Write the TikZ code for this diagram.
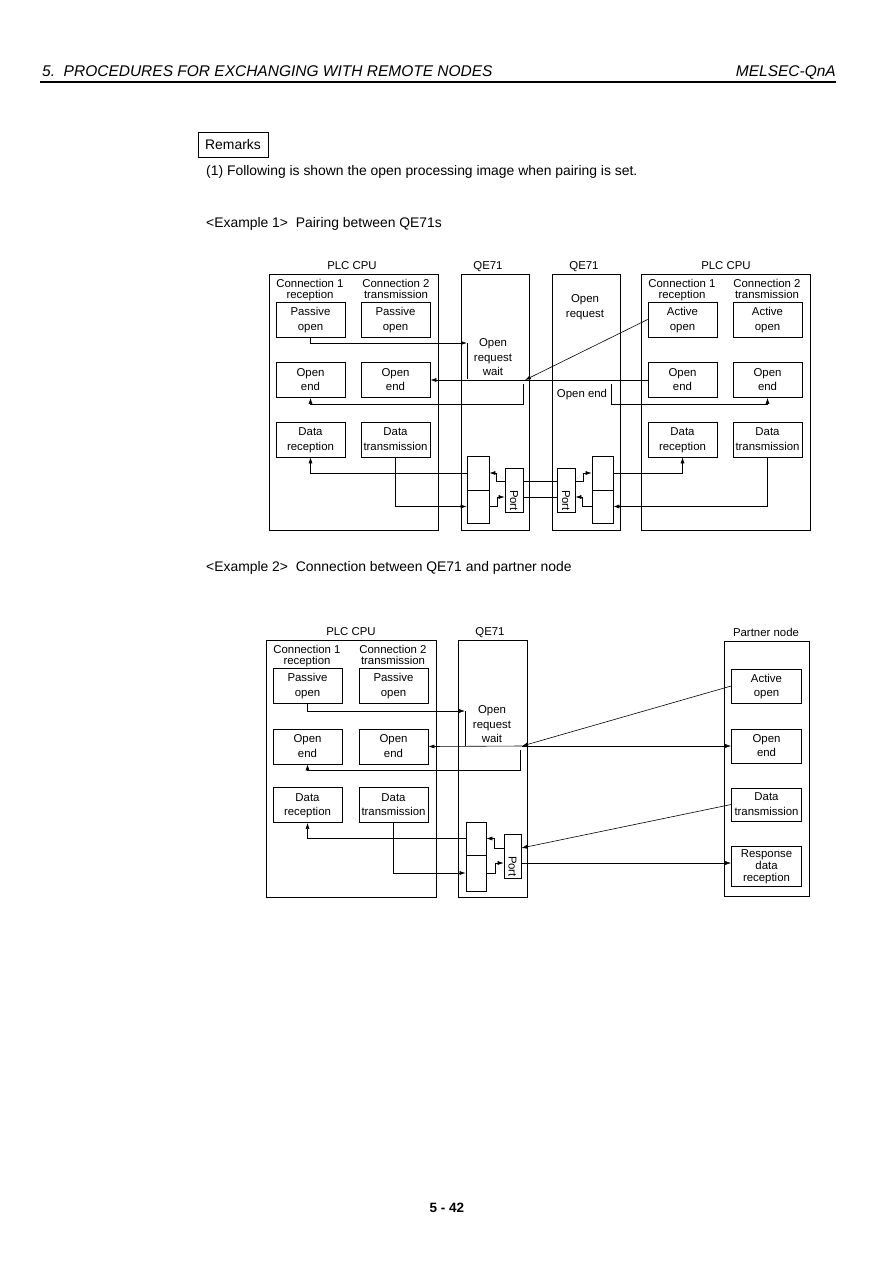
\documentclass[tikz,border=0pt]{standalone}
\usepackage{fontspec}
\setmainfont{Liberation Sans}
\usetikzlibrary{arrows.meta}
\newcommand{\diafont}{\fontsize{11.4}{14.5}\selectfont}
\newcommand{\capfont}{\fontsize{11.4}{11}\selectfont}
\newcommand{\bodyfont}{\fontsize{13.9}{16}\selectfont}

\begin{document}
\begin{tikzpicture}[x=1pt, y=-1pt,
                    main/.style = {
                        draw=black, line width=0.7pt, minimum width=69, minimum height=35,
                        inner sep=0pt, align=center, text depth=1pt, font=\diafont
                    },
                    unit/.style = {draw=black, line width=0.7pt, inner sep=0pt},
                    txt/.style = {inner sep=0pt, align=center, text depth=1pt, font=\diafont},
                    heading/.style = {inner sep=0pt, align=center, text depth=2pt, font=\capfont},
                    port/.style = {main, minimum width=18, minimum height=44, text depth=0pt},
                    link/.style = {draw=black, line width=0.6pt, -{Latex[length=6pt,width=4pt]}},
                    plain/.style = {draw=black, line width=0.6pt}
                ]
                    \useasboundingbox (0,0) rectangle (893,1263);

                    % Page head
                    \node[anchor=base west, inner sep=0pt, font=\fontsize{15.5}{17}\selectfont\itshape] (head) at (42,77) {5.\ \ PROCEDURES FOR EXCHANGING WITH REMOTE NODES};
                    \node[anchor=base east, inner sep=0pt, font=\fontsize{15.5}{17}\selectfont\itshape] (series) at (836,77) {MELSEC-QnA};
                    \draw[line width=1.4pt] (40,82) -- (836,82);

                    \node[draw=black, line width=1pt, minimum width=70, minimum height=25, inner sep=0pt, font=\bodyfont] (remarks) at (233,144.5) {Remarks};
                    \node[anchor=base west, inner sep=0pt, font=\bodyfont] (intro) at (206,175) {(1)\ Following is shown the open processing image when pairing is set.};
                    \node[anchor=base west, inner sep=0pt, font=\bodyfont] (ex1) at (206,227) {<Example 1>\ \ Pairing between QE71s};
                    \node[anchor=base west, inner sep=0pt, font=\bodyfont] (ex2) at (206,571) {<Example 2>\ \ Connection between QE71 and partner node};

                    % ---------- Example 1 ----------
                    % Units
                    \node[unit, minimum width=169, minimum height=256] (plcA) at (353.5,402) {};
                    \node[unit, minimum width=68, minimum height=256] (qeA) at (495,402) {};
                    \node[unit, minimum width=68, minimum height=256] (qeB) at (586,402) {};
                    \node[unit, minimum width=169, minimum height=256] (plcB) at (725.5,402) {};
                    \node[heading] (plcAlbl) at (352,267) {PLC CPU};
                    \node[heading] (qeAlbl) at (488,267) {QE71};
                    \node[heading] (qeBlbl) at (584,267) {QE71};
                    \node[heading] (plcBlbl) at (726,267) {PLC CPU};

                    \node[heading] (A1cap) at (310,290) {Connection 1\\reception};
                    \node[heading] (A2cap) at (396,290) {Connection 2\\transmission};
                    \node[heading] (B1cap) at (682,290) {Connection 1\\reception};
                    \node[heading] (B2cap) at (767,290) {Connection 2\\transmission};

                    % Nodes
                    \node[main] (A1po) at (310.5,319.5) {Passive\\open};
                    \node[main] (A2po) at (395.5,319.5) {Passive\\open};
                    \node[main] (A1oe) at (310.5,380) {Open\\end};
                    \node[main] (A2oe) at (395.5,380) {Open\\end};
                    \node[main] (A1dr) at (310.5,439.5) {Data\\reception};
                    \node[main] (A2dt) at (395.5,439.5) {Data\\transmission};

                    \node[main] (B1ao) at (682.5,319.5) {Active\\open};
                    \node[main] (B2ao) at (767.5,319.5) {Active\\open};
                    \node[main] (B1oe) at (682.5,380) {Open\\end};
                    \node[main] (B2oe) at (767.5,380) {Open\\end};
                    \node[main] (B1dr) at (682.5,439.5) {Data\\reception};
                    \node[main] (B2dt) at (767.5,439.5) {Data\\transmission};

                    \node[txt] (waitA) at (493,358) {Open\\request\\wait};
                    \node[txt] (reqB) at (585,306.5) {Open\\request};
                    \node[txt] (endB) at (582,394) {Open end};

                    % Buffers and ports
                    \node[main, minimum width=22, minimum height=34] (bufA1) at (478,473) {};
                    \node[main, minimum width=22, minimum height=33] (bufA2) at (478,506.5) {};
                    \node[main, minimum width=21, minimum height=34] (bufB1) at (602.5,473) {};
                    \node[main, minimum width=21, minimum height=33] (bufB2) at (602.5,506.5) {};
                    \node[port] (portA) at (514,490) {\rotatebox{-90}{Port}};
                    \node[port] (portB) at (566,490) {\rotatebox{-90}{Port}};

                    \coordinate (inA) at (467,343);
                    \coordinate (ackA) at (525,380);
                    \coordinate (doneA) at (523,384);
                    \coordinate (doneB) at (611,384);

                    % A1po - QE71
                    \draw[link] (A1po.south) |- (inA);
                    \draw[plain] (inA) -- ++(0,36);
                    % B1ao - QE71
                    \draw[link] (B1ao.west) -- (ackA);
                    % B1oe - A2oe
                    \draw[link] (B1oe.west) -- (A2oe.east);
                    % QE71 - A1oe
                    \draw[link] (doneA) -- ++(0,20) -| (A1oe.south);
                    % QE71 - B2oe
                    \draw[link] (doneB) -- ++(0,20) -| (B2oe.south);

                    % Data A -> B
                    \draw[link] (A2dt.south) |- (bufA2.west);
                    \draw[link] (bufA2.east) -- ++(8,0) |- ([yshift=-7pt]portA.west);
                    \draw[plain] ([yshift=-7pt]portA.east) -- ([yshift=-7pt]portB.west);
                    \draw[link] ([yshift=9pt]portB.east) -- ++(8,0) |- (bufB1.west);
                    \draw[link] (bufB1.east) -| (B1dr.south);
                    % Data B -> A
                    \draw[link] (B2dt.south) |- (bufB2.east);
                    \draw[link] (bufB2.west) -- ++(-9,0) |- ([yshift=-7pt]portB.east);
                    \draw[plain] ([yshift=9pt]portB.west) -- ([yshift=9pt]portA.east);
                    \draw[link] ([yshift=9pt]portA.west) -- ++(-8,0) |- (bufA1.east);
                    \draw[link] (bufA1.west) -| (A1dr.south);

                    % ---------- Example 2 ----------
                    % Units
                    \node[unit, minimum width=170, minimum height=257] (plcC) at (351,768.5) {};
                    \node[unit, minimum width=69, minimum height=257] (qeC) at (492.5,768.5) {};
                    \node[unit, minimum width=85, minimum height=255] (partner) at (766.5,768.5) {};
                    \node[heading] (plcClbl) at (351,633) {PLC CPU};
                    \node[heading] (qeClbl) at (490,633) {QE71};
                    \node[heading] (partnerlbl) at (766,633) {Partner node};

                    \node[heading] (C1cap) at (307,656) {Connection 1\\reception};
                    \node[heading] (C2cap) at (393,656) {Connection 2\\transmission};

                    % Nodes
                    \node[main] (C1po) at (307.5,685.5) {Passive\\open};
                    \node[main] (C2po) at (393.5,685.5) {Passive\\open};
                    \node[main] (C1oe) at (307.5,746.5) {Open\\end};
                    \node[main] (C2oe) at (393.5,746.5) {Open\\end};
                    \node[main] (C1dr) at (307.5,805) {Data\\reception};
                    \node[main] (C2dt) at (393.5,805) {Data\\transmission};

                    \node[main, minimum width=70, minimum height=34] (Pao) at (766.5,686) {Active\\open};
                    \node[main, minimum width=70, minimum height=34] (Poe) at (766.5,746) {Open\\end};
                    \node[main, minimum width=70, minimum height=33] (Pdt) at (766.5,804.5) {Data\\transmission};
                    \node[main, minimum width=70, minimum height=40, font=\fontsize{11.4}{12}\selectfont] (Prr) at (766.5,866) {Response\\data\\reception};

                    \node[txt] (waitC) at (492,725) {Open\\request\\wait};

                    % Buffer and port
                    \node[main, minimum width=20, minimum height=33] (bufC1) at (476,838.5) {};
                    \node[main, minimum width=20, minimum height=36] (bufC2) at (476,873) {};
                    \node[port, minimum width=17] (portC) at (512.5,856) {\rotatebox{-90}{Port}};

                    \coordinate (inC) at (465,711);
                    \coordinate (ackC) at (522,746);
                    \coordinate (doneC) at (520,750);
                    \coordinate (txC) at ([yshift=-7pt]portC.east);

                    % C1po - QE71
                    \draw[link] (C1po.south) |- (inC);
                    \draw[plain] (inC) -- ++(0,35);
                    % Pao - QE71
                    \draw[link] (Pao.west) -- (ackC);
                    % QE71 - C2oe, Poe
                    \draw[link] (ackC) -- (C2oe.east);
                    \draw[link] (ackC) -- (Poe.west);
                    % QE71 - C1oe
                    \draw[link] (doneC) -- ++(0,20) -| (C1oe.south);

                    % Data C -> partner
                    \draw[link] (C2dt.south) |- (bufC2.west);
                    \draw[link] (bufC2.east) -- ++(9,0) |- ([yshift=-7pt]portC.west);
                    \draw[link] (txC) -- (txC -| Prr.west);
                    % Data partner -> C
                    \draw[link] (Pdt.west) -- ([yshift=8pt]portC.east);
                    \draw[link] ([yshift=8pt]portC.west) -- ++(-9,0) |- (bufC1.east);
                    \draw[link] (bufC1.west) -| (C1dr.south);

                    % Page foot
                    \node[inner sep=0pt, font=\fontsize{13.5}{15}\selectfont\bfseries] (foot) at (447,1208) {5 - 42};
                \end{tikzpicture}
\end{document}
